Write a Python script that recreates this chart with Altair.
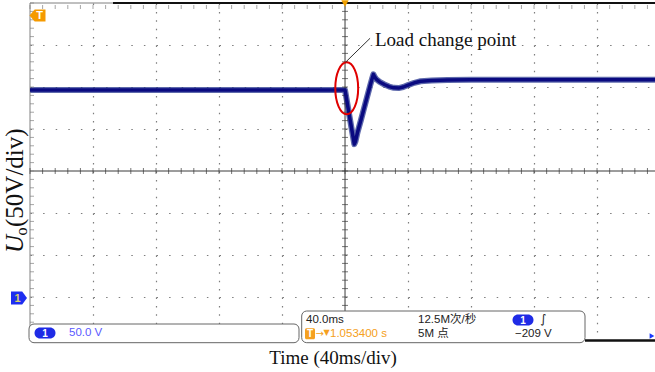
import altair as alt
import numpy as np
import pandas as pd

# ---------------- data ----------------
# time in ms (40 ms/div, trigger at 0), output voltage in V (50 V/div, ground at -3 div)
time_ms = [-200, 0, 0.5, 2, 4, 5.3, 5.9, 6.6, 8, 10, 12, 14, 16, 17.2, 18, 18.8,
           20, 22, 25, 28, 31, 34, 37, 40, 44, 48, 55, 65, 80, 196.8]
volts = [246.5, 246.5, 241, 224.5, 202.5, 188.5, 182, 185, 196.5, 210, 224, 238, 252, 260, 265, 262,
         259, 256, 253, 250.5, 249, 248.7, 250, 252.3, 255, 256.8, 257.8, 258.3, 258.5, 258.5]

x_grid_values = [-160, -120, -80, -40, 40, 80, 120, 160]
y_grid_values = [0, 50, 100, 200, 250, 300]

annotation_label = ["Load change point"]
x_title = "Time (40ms/div)"
info_left = ["1", "50.0 V"]
info_right_top = ["40.0ms", "12.5M次/秒", "1", "∫"]
info_right_bottom = ["T", "→", "▼", "1.053400 s", "5M 点", "−209 V"]

# ---------------- scales / axes ----------------
X_MIN, X_MAX = -200, 196.8
Y_MIN, Y_MAX = -50, 350
W, H = 625, 336

xs = alt.Scale(domain=[X_MIN, X_MAX], nice=False, zero=False)
ys = alt.Scale(domain=[Y_MIN, Y_MAX], nice=False, zero=False)

x_axis = alt.Axis(values=x_grid_values, grid=True, gridDash=[1.5, 6.9], gridColor="#7d7d7d",
                  gridWidth=1.2, labels=False, ticks=False, domain=False, title=None)
y_axis = alt.Axis(values=y_grid_values, grid=True, gridDash=[1.5, 11.1], gridColor="#7d7d7d",
                  gridWidth=1.2, labels=False, ticks=False, domain=False, title=None)


def X(field="t"):
    return alt.X(f"{field}:Q", scale=xs, axis=x_axis)


def Y(field="v"):
    return alt.Y(f"{field}:Q", scale=ys, axis=y_axis)


trace = pd.DataFrame({"t": time_ms, "v": volts})
one = pd.DataFrame({"k": [0]})

layers = []

# trace halo
layers.append(alt.Chart(trace).mark_line(color="#2a3890", strokeWidth=6, opacity=0.75,
                                         strokeJoin="round").encode(x=X(), y=Y()))

# borders and centre cross
layers.append(alt.Chart(pd.DataFrame({"t": [X_MIN]})).mark_rule(color="#808080", strokeWidth=1).encode(x=X()))
layers.append(alt.Chart(pd.DataFrame({"v": [Y_MAX]})).mark_rule(color="#808080", strokeWidth=1).encode(y=Y()))
layers.append(alt.Chart(pd.DataFrame({"t": [-147.3], "t2": [X_MAX], "v": [Y_MAX]}))
              .mark_rule(color="#111111", strokeWidth=2.2).encode(x=X(), x2=alt.X2("t2:Q"), y=Y()))
layers.append(alt.Chart(pd.DataFrame({"t": [0]})).mark_rule(color="#3a3a3a", strokeWidth=1).encode(x=X()))
layers.append(alt.Chart(pd.DataFrame({"v": [150]})).mark_rule(color="#3a3a3a", strokeWidth=1).encode(y=Y()))

# minor ticks (graticule, 1/5 division)
vt = pd.DataFrame({"v": np.arange(-50, 351, 10)})
ht = pd.DataFrame({"t": np.arange(-200, 197, 8)})
layers.append(alt.Chart(vt.assign(t=0)).mark_tick(orient="horizontal", size=6, thickness=1,
                                                  color="#3a3a3a").encode(x=X(), y=Y()))
layers.append(alt.Chart(vt.assign(t=X_MIN)).mark_tick(orient="horizontal", size=4, thickness=1, xOffset=2,
                                                      color="#808080").encode(x=X(), y=Y()))
layers.append(alt.Chart(ht.assign(v=150)).mark_tick(orient="vertical", size=6, thickness=1,
                                                    color="#3a3a3a").encode(x=X(), y=Y()))
layers.append(alt.Chart(ht.assign(v=Y_MAX)).mark_tick(orient="vertical", size=4, thickness=1, yOffset=4,
                                                      color="#808080").encode(x=X(), y=Y()))

# trace core
layers.append(alt.Chart(trace).mark_line(color="#0a0a80", strokeWidth=3.5,
                                         strokeJoin="round").encode(x=X(), y=Y()))

# annotation: red ellipse, leader line, label
ellipse = "M -0.44 0 A 0.44 1 0 1 0 0.44 0 A 0.44 1 0 1 0 -0.44 0 Z"
layers.append(alt.Chart(pd.DataFrame({"t": [1.08], "v": [248.6]}))
              .mark_point(shape=ellipse, size=2704, filled=False, color="#e00000", strokeWidth=2, opacity=1)
              .encode(x=X(), y=Y()))
layers.append(alt.Chart(pd.DataFrame({"t": [0.3], "v": [279.4], "t2": [15.9], "v2": [308]}))
              .mark_rule(color="#333333", strokeWidth=1)
              .encode(x=X(), y=Y(), x2=alt.X2("t2:Q"), y2=alt.Y2("v2:Q")))
layers.append(alt.Chart(pd.DataFrame({"t": [19.0], "v": [299.4], "label": annotation_label}))
              .mark_text(align="left", baseline="alphabetic", font="Liberation Serif", fontSize=19, color="#111111")
              .encode(x=X(), y=Y(), text="label:N"))

# oscilloscope markers
trig = "M 1 -0.75 L -0.35 -0.75 L -1 0 L -0.35 0.75 L 1 0.75 Z"
ch1 = "M -1 -0.8 L 0.4 -0.8 L 1 0 L 0.4 0.8 L -1 0.8 Z"
layers.append(alt.Chart(one).mark_point(shape=trig, size=256, filled=True, color="#f59a00", opacity=1)
              .encode(x=alt.value(7.5), y=alt.value(12.5)))
layers.append(alt.Chart(one).mark_text(text="T", font="Liberation Sans", fontWeight="bold", fontSize=11,
                                       color="white").encode(x=alt.value(9.5), y=alt.value(12.8)))
layers.append(alt.Chart(one).mark_point(shape=ch1, size=256, filled=True, color="#1e2ef0", opacity=1)
              .encode(x=alt.value(-11), y=alt.value(295)))
layers.append(alt.Chart(one).mark_text(text="1", font="Liberation Sans", fontWeight="bold", fontSize=11,
                                       color="#d8d070").encode(x=alt.value(-12.5), y=alt.value(295.5)))
layers.append(alt.Chart(one).mark_point(shape="triangle-down", size=55, filled=True, color="#f0a000", opacity=1)
              .encode(x=alt.value(315), y=alt.value(0.5)))

# bottom info boxes
layers.append(alt.Chart(one).mark_rect(fill="white", stroke="#666666", strokeWidth=1, cornerRadius=5)
              .encode(x=alt.value(-1), x2=alt.value(269), y=alt.value(321), y2=alt.value(339.7)))
layers.append(alt.Chart(one).mark_rect(fill="white", stroke="#666666", strokeWidth=1, cornerRadius=5)
              .encode(x=alt.value(271.7), x2=alt.value(555), y=alt.value(308), y2=alt.value(339.7)))
layers.append(alt.Chart(one).mark_rule(color="#111111", strokeWidth=2.5)
              .encode(x=alt.value(555), x2=alt.value(625), y=alt.value(337.5)))
layers.append(alt.Chart(one).mark_point(shape="triangle-right", size=30, filled=True, color="#1a3aff", opacity=1)
              .encode(x=alt.value(622), y=alt.value(333)))

for cx, cy in [(15, 330), (493, 317)]:
    layers.append(alt.Chart(one).mark_rect(fill="#1f2be6", cornerRadius=5.5)
                  .encode(x=alt.value(cx - 10.5), x2=alt.value(cx + 10.5), y=alt.value(cy - 5.5),
                          y2=alt.value(cy + 5.5)))
    layers.append(alt.Chart(one).mark_text(text="1", font="Liberation Sans", fontWeight="bold", fontSize=10,
                                           color="white").encode(x=alt.value(cx), y=alt.value(cy + 0.5)))

layers.append(alt.Chart(one).mark_rect(fill="#f5a020", cornerRadius=1.5)
              .encode(x=alt.value(275), x2=alt.value(285), y=alt.value(325.3), y2=alt.value(336.3)))
layers.append(alt.Chart(one).mark_text(text=info_right_bottom[0], font="Liberation Sans", fontWeight="bold",
                                       fontSize=10, color="white").encode(x=alt.value(280), y=alt.value(331.2)))
layers.append(alt.Chart(one).mark_text(text=info_right_bottom[1], font="DejaVu Sans", fontSize=10, align="left",
                                       baseline="middle", color="#f5a020")
              .encode(x=alt.value(285.5), y=alt.value(331)))
layers.append(alt.Chart(one).mark_text(text=info_right_bottom[2], font="DejaVu Sans", fontSize=8, align="left",
                                       baseline="middle", color="#f5a020")
              .encode(x=alt.value(293.5), y=alt.value(330)))

sans = "Liberation Sans, Noto Sans CJK SC"
texts = [
    (info_left[1], 39, 330, "#5a5aff"),
    (info_right_top[0], 276, 317, "#222222"),
    (info_right_top[1], 388, 317, "#222222"),
    (info_right_bottom[3], 300, 331, "#f5a020"),
    (info_right_bottom[4], 388, 331, "#222222"),
    (info_right_bottom[5], 485, 331, "#222222"),
]
for txt, tx, ty, col in texts:
    layers.append(alt.Chart(one).mark_text(text=txt, font=sans, fontSize=11.5, align="left",
                                           baseline="middle", color=col)
                  .encode(x=alt.value(tx), y=alt.value(ty)))
layers.append(alt.Chart(one).mark_text(text=info_right_top[3], font="DejaVu Sans", fontSize=12, align="left",
                                       baseline="middle", color="#222222")
              .encode(x=alt.value(510), y=alt.value(316)))

# axis titles
layers.append(alt.Chart(one).mark_text(text=x_title, font="Liberation Serif", fontSize=19, align="center",
                                       baseline="alphabetic", color="#111111")
              .encode(x=alt.value(303), y=alt.value(361)))
layers.append(alt.Chart(one).mark_text(text="U", font="Liberation Serif", fontStyle="italic", fontSize=25,
                                       angle=270, align="left", baseline="alphabetic", color="#111111")
              .encode(x=alt.value(-7), y=alt.value(250)))
layers.append(alt.Chart(one).mark_text(text="o", font="Liberation Serif", fontSize=16,
                                       angle=270, align="left", baseline="alphabetic", color="#111111")
              .encode(x=alt.value(-3), y=alt.value(232.5)))
layers.append(alt.Chart(one).mark_text(text="(50V/div)", font="Liberation Serif", fontSize=25,
                                       angle=270, align="left", baseline="alphabetic", color="#111111")
              .encode(x=alt.value(-7), y=alt.value(224)))

chart = (
    alt.layer(*layers)
    .properties(width=W, height=H, autosize=alt.AutoSizeParams(type="none"),
                padding={"left": 30, "top": 3, "right": 0, "bottom": 33}, background="white")
    .configure_view(stroke=None)
)

chart.save("out.html", embed_options={"renderer": "svg", "actions": False})
